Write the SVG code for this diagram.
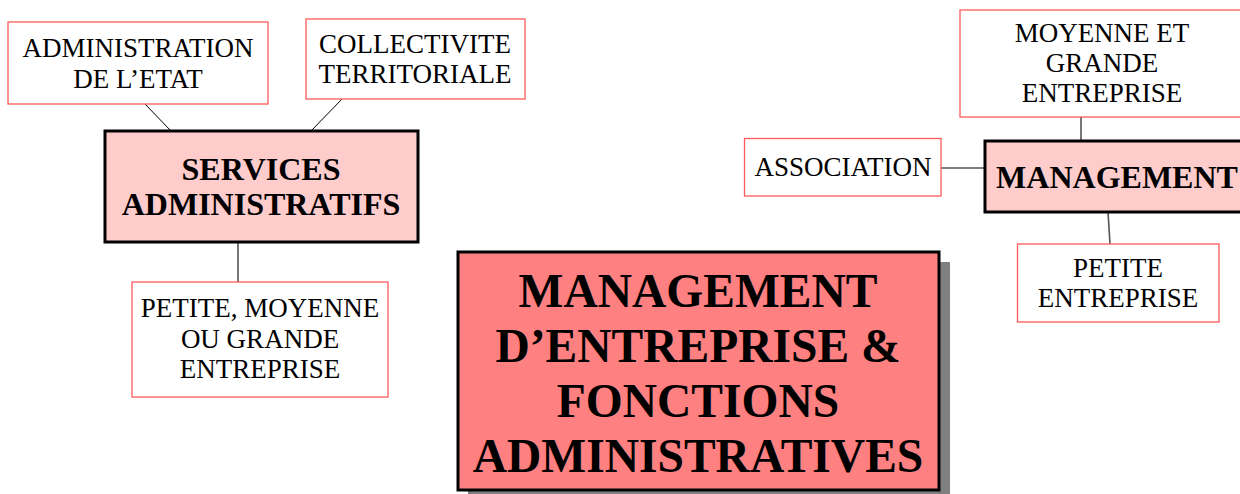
<svg xmlns="http://www.w3.org/2000/svg" width="1240" height="494" viewBox="0 0 1240 494">
<style>
.leaf{fill:#fff;stroke:#ff5a5a;stroke-width:1.3}
.hub{fill:#ffcccc;stroke:#000;stroke-width:3}
.t{font-family:"Liberation Serif","Times New Roman",serif;font-size:27px;fill:#000;text-anchor:middle}
.b{font-family:"Liberation Serif","Times New Roman",serif;font-weight:bold;font-size:32px;fill:#000;text-anchor:middle}
.big{font-family:"Liberation Serif","Times New Roman",serif;font-weight:bold;font-size:47.5px;fill:#000;text-anchor:middle}
.c{stroke:#000;stroke-width:1;fill:none}
.g{stroke:#555;stroke-width:1.6;fill:none}
</style>
<rect width="1240" height="494" fill="#fff"/>
<g id="connectors">
<line class="c" x1="145" y1="104" x2="171" y2="131"/>
<line class="c" x1="342" y1="99" x2="311" y2="131"/>
<line class="g" x1="238" y1="242" x2="238" y2="282"/>
<line class="g" x1="941" y1="168" x2="985" y2="168"/>
<line class="g" x1="1081" y1="117" x2="1081" y2="140"/>
<line class="g" x1="1108" y1="212" x2="1110" y2="244"/>
</g>
<g id="admin-etat">
<rect class="leaf" x="8" y="22" width="260" height="82"/>
<text class="t" x="138" y="57">ADMINISTRATION</text>
<text class="t" x="138" y="88">DE L’ETAT</text>
</g>
<g id="collectivite">
<rect class="leaf" x="306" y="19" width="219" height="80"/>
<text class="t" x="415" y="53">COLLECTIVITE</text>
<text class="t" x="415" y="83">TERRITORIALE</text>
</g>
<g id="services">
<rect class="hub" x="105" y="131" width="313" height="111"/>
<text class="b" x="261" y="180">SERVICES</text>
<text class="b" x="261" y="215">ADMINISTRATIFS</text>
</g>
<g id="petite-moyenne-grande">
<rect class="leaf" x="132" y="282" width="256" height="115"/>
<text class="t" x="260" y="317">PETITE, MOYENNE</text>
<text class="t" x="260" y="348">OU GRANDE</text>
<text class="t" x="260" y="378">ENTREPRISE</text>
</g>
<g id="main">
<rect x="468" y="262" width="482" height="238" fill="#808080"/>
<rect x="458" y="252" width="481" height="238" fill="#ff8080" stroke="#000" stroke-width="3"/>
<text class="big" x="698" y="307">MANAGEMENT</text>
<text class="big" x="698" y="362">D’ENTREPRISE &amp;</text>
<text class="big" x="698" y="417">FONCTIONS</text>
<text class="big" x="698" y="472">ADMINISTRATIVES</text>
</g>
<g id="moyenne-grande">
<rect class="leaf" x="960" y="10" width="284" height="107"/>
<text class="t" x="1102" y="42">MOYENNE ET</text>
<text class="t" x="1102" y="72">GRANDE</text>
<text class="t" x="1102" y="102">ENTREPRISE</text>
</g>
<g id="association">
<rect class="leaf" x="744.500" y="138.500" width="196.500" height="57.500"/>
<text class="t" x="843" y="176">ASSOCIATION</text>
</g>
<g id="management">
<rect class="hub" x="985" y="141" width="266" height="71"/>
<text class="b" x="1117" y="188">MANAGEMENT</text>
</g>
<g id="petite-entreprise">
<rect class="leaf" x="1017.500" y="244" width="201.500" height="78"/>
<text class="t" x="1118" y="277">PETITE</text>
<text class="t" x="1118" y="307">ENTREPRISE</text>
</g>
</svg>
